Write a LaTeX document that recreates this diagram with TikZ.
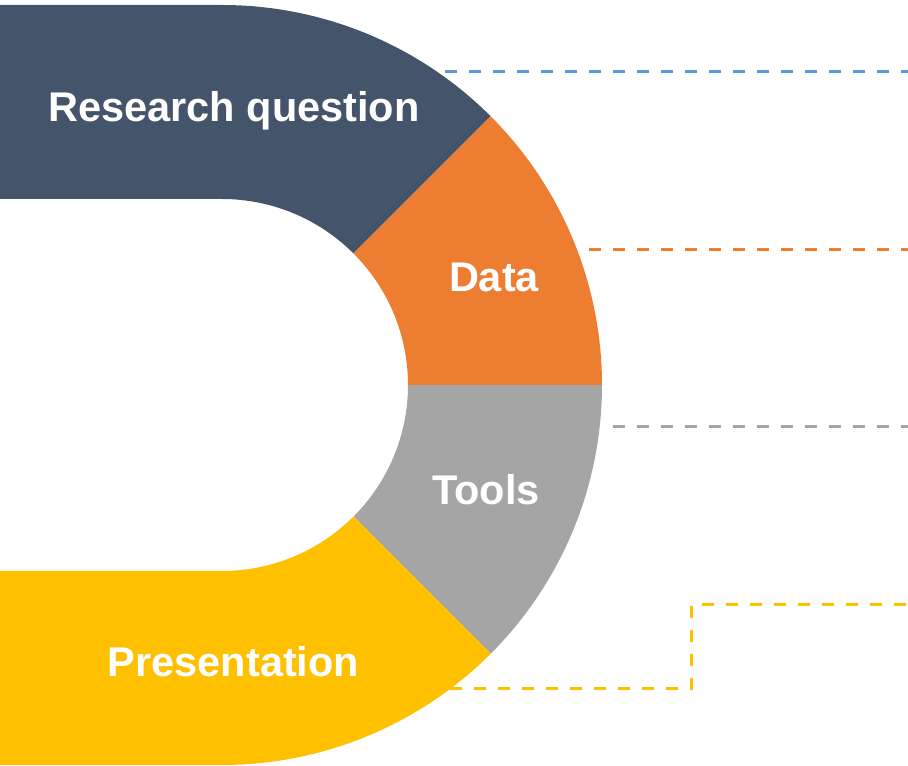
\documentclass[tikz,border=0pt]{standalone}
\usepackage{fontspec}
\setsansfont{Liberation Sans}
\usetikzlibrary{positioning}

\definecolor{rqblue}{HTML}{44546A}
\definecolor{dataorange}{HTML}{ED7D31}
\definecolor{toolsgray}{HTML}{A5A5A5}
\definecolor{presyellow}{HTML}{FFC000}
\definecolor{leaderblue}{HTML}{5B9BD5}

\begin{document}
\begin{tikzpicture}[
    x=1pt, y=1pt,
    seglabel/.style={text=white, font=\sffamily\bfseries\fontsize{41.5}{41.5}\selectfont, inner sep=0pt, anchor=base},
    leader/.style={line width=3pt, dash pattern=on 12pt off 12pt}
]
    \useasboundingbox (0,0) rectangle (908,766);

    % Centre of the arcs
    \coordinate (c) at (222,381);

    % Segments
    \fill[rqblue] (0,761) -- (222,761) arc[start angle=90, end angle=45, radius=380]
        -- ([shift={(c)}]45:186) arc[start angle=45, end angle=90, radius=186]
        -- (0,567) -- cycle;
    \fill[dataorange] ([shift={(c)}]45:380) arc[start angle=45, end angle=0, radius=380]
        -- ([shift={(c)}]0:186) arc[start angle=0, end angle=45, radius=186] -- cycle;
    \fill[toolsgray] ([shift={(c)}]0:380) arc[start angle=0, end angle=-45, radius=380]
        -- ([shift={(c)}]-45:186) arc[start angle=-45, end angle=0, radius=186] -- cycle;
    \fill[presyellow] ([shift={(c)}]-45:380) arc[start angle=-45, end angle=-90, radius=380]
        -- (0,1) -- (0,195) -- (222,195)
        arc[start angle=-90, end angle=-45, radius=186] -- cycle;

    % Labels
    \node[seglabel] (rq) at (234,644) {Research question};
    \node[seglabel] (data) at (494,474) {Data};
    \node[seglabel] (tools) at (486,261) {Tools};
    \node[seglabel] (pres) at (233.5,89) {Presentation};

    % Leader lines
    \coordinate (rqL) at (445,694);
    \coordinate (rqR) at (908,694);
    \coordinate (dataL) at (589,516);
    \coordinate (dataR) at (908,516);
    \coordinate (toolsL) at (613,339);
    \coordinate (toolsR) at (908,339);
    \coordinate (presL) at (450,77);
    \coordinate (presM) at (691,161);
    \coordinate (presR) at (908,161);

    \draw[leader, leaderblue] (rqL) -- (rqR);
    \draw[leader, dataorange] (dataL) -- (dataR);
    \draw[leader, toolsgray] (toolsL) -- (toolsR);
    \draw[leader, presyellow] (presL) -| (presM) -- (presR);

\end{tikzpicture}
\end{document}
